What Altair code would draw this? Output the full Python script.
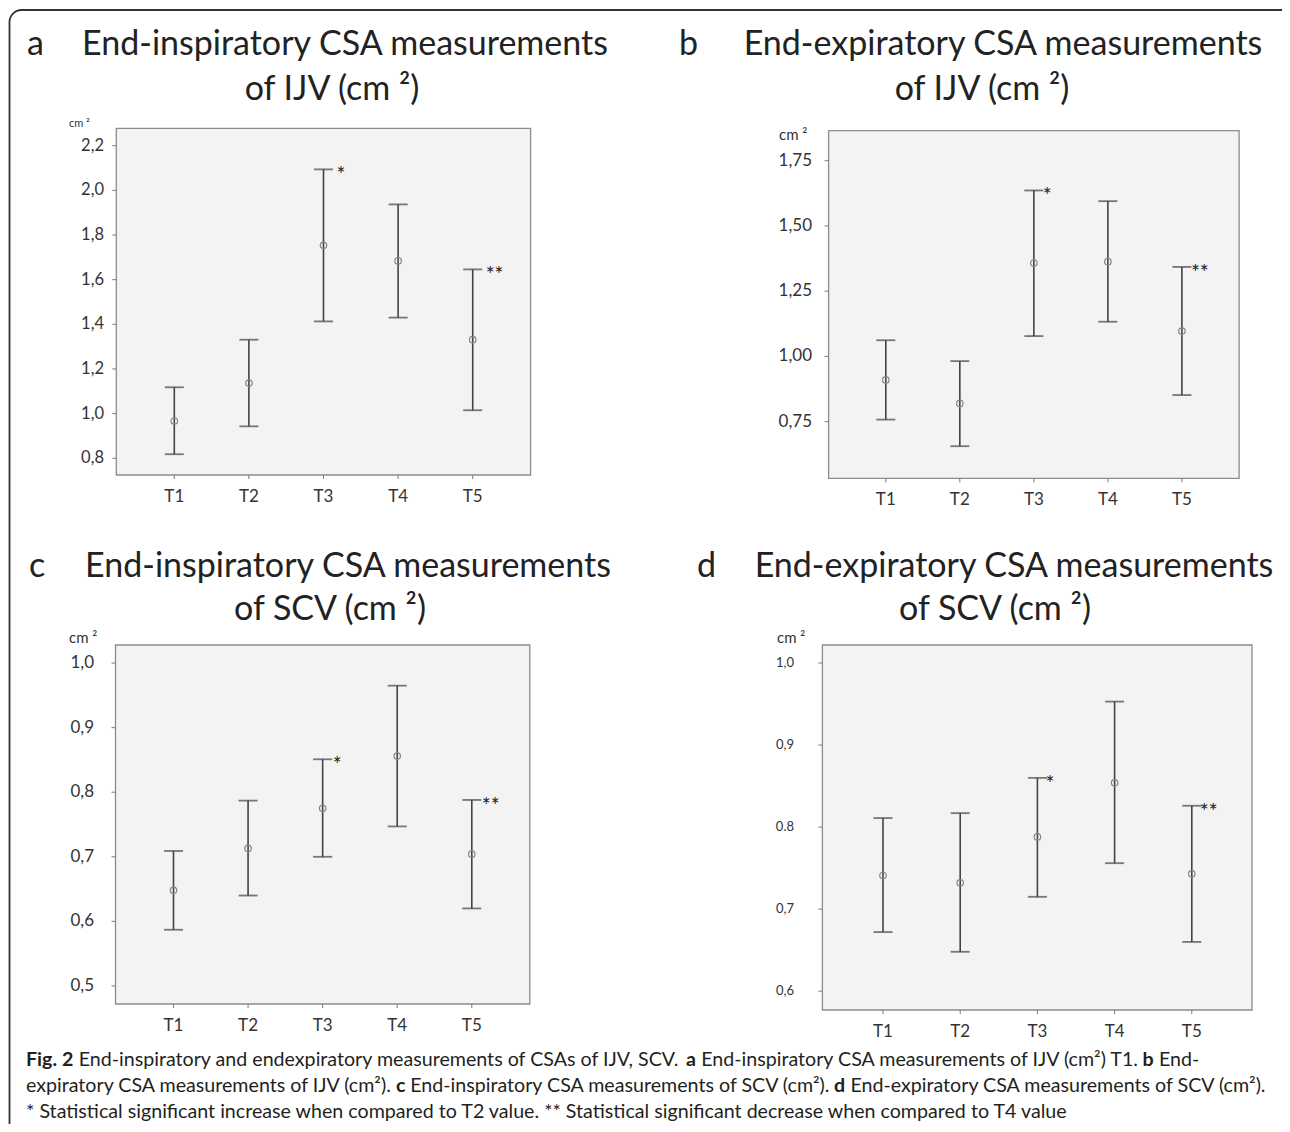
import altair as alt
import pandas as pd

# ---------------- data ----------------
CATS = ["T1", "T2", "T3", "T4", "T5"]
STARS = ["", "", "*", "", "**"]

A_MEAN = [0.967, 1.137, 1.754, 1.684, 1.331]
A_LOW = [0.818, 0.943, 1.413, 1.430, 1.015]
A_UP = [1.118, 1.331, 2.094, 1.937, 1.646]
A_TICKS = [0.8, 1.0, 1.2, 1.4, 1.6, 1.8, 2.0, 2.2]
A_TICK_LABELS = ["0,8", "1,0", "1,2", "1,4", "1,6", "1,8", "2,0", "2,2"]

B_MEAN = [0.910, 0.820, 1.358, 1.363, 1.097]
B_LOW = [0.758, 0.656, 1.078, 1.133, 0.852]
B_UP = [1.062, 0.982, 1.636, 1.595, 1.343]
B_TICKS = [0.75, 1.00, 1.25, 1.50, 1.75]
B_TICK_LABELS = ["0,75", "1,00", "1,25", "1,50", "1,75"]

C_MEAN = [0.648, 0.713, 0.775, 0.856, 0.704]
C_LOW = [0.587, 0.640, 0.700, 0.747, 0.620]
C_UP = [0.709, 0.787, 0.851, 0.965, 0.788]
C_TICKS = [0.5, 0.6, 0.7, 0.8, 0.9, 1.0]
C_TICK_LABELS = ["0,5", "0,6", "0,7", "0,8", "0,9", "1,0"]

D_MEAN = [0.741, 0.732, 0.788, 0.854, 0.743]
D_LOW = [0.672, 0.648, 0.715, 0.756, 0.660]
D_UP = [0.811, 0.817, 0.860, 0.953, 0.826]
D_TICKS = [0.6, 0.7, 0.8, 0.9, 1.0]
D_TICK_LABELS = ["0,6", "0,7", "0.8", "0,9", "1,0"]

TITLES = {
    "a": ["End-inspiratory CSA measurements", "of IJV (cm \u00b2)"],
    "b": ["End-expiratory CSA measurements", "of IJV (cm \u00b2)"],
    "c": ["End-inspiratory CSA measurements", "of SCV (cm \u00b2)"],
    "d": ["End-expiratory CSA measurements", "of SCV (cm \u00b2)"],
}

CAPTION = [
    [("b", "Fig. 2"), ("r", "End-inspiratory and endexpiratory measurements of CSAs of IJV, SCV."),
     ("b", "a"), ("r", "End-inspiratory CSA measurements of IJV (cm\u00b2) T1."), ("b", "b"), ("r", "End-")],
    [("r", "expiratory CSA measurements of IJV (cm\u00b2)."), ("b", "c"),
     ("r", "End-inspiratory CSA measurements of SCV (cm\u00b2)."), ("b", "d"),
     ("r", "End-expiratory CSA measurements of SCV (cm\u00b2).")],
    [("r", "* Statistical significant increase when compared to T2 value. ** Statistical significant decrease when compared to T4 value")],
]
# extra spacing (px) after each caption segment, to compensate width estimates
CAP_GAP = [[0, 6, 0, 0, 0, 0], [0, 0, 0, 0, 0], [0]]

# ---------------- style / layout ----------------
FONT = "Lato"
M = 8  # page margin
BAR = "#424242"
TXT = "#222222"
TITLE_FS = 34


def P(v):
    return v - M


LAYOUT = {
    "a": dict(fx0=116.3, fx1=530.6, fy0=128.3, fy1=475.0, cx0=174.3, cx1=472.7, v0=0.725, v1=2.278,
              lx=104, yfs=16.5, cmx=69, cmy=127, cmfs=11, letx=27, b1=55, b2=100, c1=345, c2=332, sdx=13),
    "b": dict(fx0=828.6, fx1=1239.1, fy0=130.7, fy1=478.3, cx0=885.8, cx1=1181.9, v0=0.533, v1=1.865,
              lx=812, yfs=17, cmx=779, cmy=140, cmfs=15, letx=679, b1=55, b2=100, c1=1003, c2=982, sdx=9),
    "c": dict(fx0=115.5, fx1=529.8, fy0=645.0, fy1=1004.0, cx0=173.5, cx1=471.8, v0=0.472, v1=1.028,
              lx=94, yfs=17, cmx=69, cmy=643, cmfs=15, letx=29, b1=577, b2=620, c1=348, c2=330, sdx=10),
    "d": dict(fx0=822.4, fx1=1252.0, fy0=645.0, fy1=1010.0, cx0=883.0, cx1=1191.8, v0=0.577, v1=1.022,
              lx=794, yfs=13, cmx=777, cmy=643, cmfs=15, letx=697, b1=577, b2=620, c1=1014, c2=995, sdx=8),
}

ONE = pd.DataFrame({"k": [0]})


def panel(key, mean, low, up, ticks, tick_labels):
    L = LAYOUT[key]
    df = pd.DataFrame({"cat": CATS, "mean": mean, "low": low, "up": up, "star": STARS})
    tdf = pd.DataFrame({"v": ticks, "lab": tick_labels})
    xs = alt.Scale(type="point", domain=CATS, range=[P(L["cx0"]), P(L["cx1"])], padding=0)
    ys = alt.Scale(domain=[L["v0"], L["v1"]], range=[P(L["fy1"]), P(L["fy0"])], nice=False, zero=False)
    X = alt.X("cat:N", scale=xs, axis=None)

    def Y(f):
        return alt.Y(f"{f}:Q", scale=ys, axis=None)

    layers = []
    layers.append(alt.Chart(ONE).mark_rect(fill="#f3f3f3", stroke="#8c8c8c", strokeWidth=1.3).encode(
        x=alt.value(P(L["fx0"])), x2=alt.value(P(L["fx1"])),
        y=alt.value(P(L["fy0"])), y2=alt.value(P(L["fy1"]))))
    # axis ticks
    layers.append(alt.Chart(tdf).mark_rule(color="#7a7a7a", strokeWidth=1).encode(
        y=Y("v"), x=alt.value(P(L["fx0"]) - 4), x2=alt.value(P(L["fx0"]))))
    layers.append(alt.Chart(tdf).mark_text(align="right", baseline="middle", font=FONT,
                                           fontSize=L["yfs"], color="#333333").encode(
        y=Y("v"), x=alt.value(P(L["lx"])), text="lab:N"))
    layers.append(alt.Chart(df).mark_rule(color="#7a7a7a", strokeWidth=1).encode(
        x=X, y=alt.value(P(L["fy1"])), y2=alt.value(P(L["fy1"]) + 4)))
    layers.append(alt.Chart(df).mark_text(baseline="top", font=FONT, fontSize=17, color="#333333").encode(
        x=X, y=alt.value(P(L["fy1"]) + 14), text="cat:N"))
    # error bars
    layers.append(alt.Chart(df).mark_rule(color=BAR, strokeWidth=1.6).encode(x=X, y=Y("low"), y2="up:Q"))
    layers.append(alt.Chart(df).mark_tick(orient="horizontal", size=19, thickness=1.8, color=BAR).encode(
        x=X, y=Y("low")))
    layers.append(alt.Chart(df).mark_tick(orient="horizontal", size=19, thickness=1.8, color=BAR).encode(
        x=X, y=Y("up")))
    layers.append(alt.Chart(df).mark_point(shape="circle", filled=False, size=42, color="#858585",
                                           strokeWidth=1.2, opacity=1).encode(x=X, y=Y("mean")))
    layers.append(alt.Chart(df).transform_filter("datum.star != ''").mark_text(
        align="left", baseline="alphabetic", dx=L["sdx"], dy=13, font=FONT, fontSize=21, color=TXT).encode(
        x=X, y=Y("up"), text="star:N"))
    # unit label
    layers.append(alt.Chart(ONE).mark_text(align="left", baseline="alphabetic", font=FONT,
                                           fontSize=L["cmfs"], color="#333333").encode(
        x=alt.value(P(L["cmx"])), y=alt.value(P(L["cmy"])), text=alt.value("cm \u00b2")))
    # titles
    layers.append(alt.Chart(ONE).mark_text(align="left", baseline="alphabetic", font=FONT,
                                           fontSize=TITLE_FS, color=TXT).encode(
        x=alt.value(P(L["letx"])), y=alt.value(P(L["b1"])), text=alt.value(key)))
    layers.append(alt.Chart(ONE).mark_text(align="center", baseline="alphabetic", font=FONT,
                                           fontSize=TITLE_FS, color=TXT).encode(
        x=alt.value(P(L["c1"])), y=alt.value(P(L["b1"])), text=alt.value(TITLES[key][0])))
    layers.append(alt.Chart(ONE).mark_text(align="center", baseline="alphabetic", font=FONT,
                                           fontSize=TITLE_FS, color=TXT).encode(
        x=alt.value(P(L["c2"])), y=alt.value(P(L["b2"])), text=alt.value(TITLES[key][1])))
    return layers


# ------------- caption layout (approximate Lato advance widths, em) -------------
W = {" ": 0.26, ".": 0.23, ",": 0.23, "(": 0.30, ")": 0.30, "-": 0.35, "*": 0.42, "\u00b2": 0.36}
W.update({c: v for c, v in zip("abcdefghijklmnopqrstuvwxyz",
                               [0.51, 0.57, 0.46, 0.57, 0.53, 0.32, 0.50, 0.57, 0.24, 0.24, 0.50, 0.24, 0.86,
                                0.57, 0.57, 0.57, 0.57, 0.37, 0.43, 0.35, 0.57, 0.50, 0.77, 0.49, 0.50, 0.45])})
W.update({c: v for c, v in zip("ABCDEFGHIJKLMNOPQRSTUVWXYZ",
                               [0.68, 0.63, 0.66, 0.74, 0.57, 0.55, 0.72, 0.75, 0.28, 0.39, 0.65, 0.49, 0.90,
                                0.75, 0.80, 0.58, 0.80, 0.62, 0.52, 0.58, 0.72, 0.68, 1.0, 0.65, 0.62, 0.61])})
W.update({c: 0.58 for c in "0123456789"})
W = {k: v * 0.98 for k, v in W.items()}


def em(s, bold=False):
    return sum(W.get(ch, 0.5) for ch in s) * (1.05 if bold else 1.0)


CAP_X0 = 26
CAP_BASE = [1066, 1092, 1118]
line2_em = sum(em(t, k == "b") for k, t in CAPTION[1]) + W[" "] * (len(CAPTION[1]) - 1)
CAP_FS = round((1265 - CAP_X0) / line2_em, 2)

rows = []
for li, segs in enumerate(CAPTION):
    x = CAP_X0
    for si, (k, t) in enumerate(segs):
        rows.append({"px": P(x), "py": P(CAP_BASE[li]), "t": t, "w": k})
        x += (em(t, k == "b") + W[" "]) * CAP_FS + CAP_GAP[li][si]
cap = pd.DataFrame(rows)

cap_reg = alt.Chart(cap).transform_filter("datum.w == 'r'").mark_text(
    align="left", baseline="alphabetic", font=FONT, fontSize=CAP_FS, color="#231f20").encode(
    x=alt.X("px:Q", scale=None, axis=None), y=alt.Y("py:Q", scale=None, axis=None), text="t:N")
cap_bold = alt.Chart(cap).transform_filter("datum.w == 'b'").mark_text(
    align="left", baseline="alphabetic", font=FONT, fontSize=CAP_FS, fontWeight="bold", color="#231f20").encode(
    x=alt.X("px:Q", scale=None, axis=None), y=alt.Y("py:Q", scale=None, axis=None), text="t:N")

border = alt.Chart(ONE).mark_rect(fillOpacity=0, fill="white", stroke="#333333", strokeWidth=1.8,
                                  cornerRadius=12).encode(
    x=alt.value(P(9.5)), x2=alt.value(1320), y=alt.value(P(10)), y2=alt.value(1320))

layers = [border]
layers += panel("a", A_MEAN, A_LOW, A_UP, A_TICKS, A_TICK_LABELS)
layers += panel("b", B_MEAN, B_LOW, B_UP, B_TICKS, B_TICK_LABELS)
layers += panel("c", C_MEAN, C_LOW, C_UP, C_TICKS, C_TICK_LABELS)
layers += panel("d", D_MEAN, D_LOW, D_UP, D_TICKS, D_TICK_LABELS)
layers += [cap_reg, cap_bold]

chart = alt.layer(*layers).resolve_scale(x="independent", y="independent").properties(
    width=1274, height=1116, autosize=alt.AutoSizeParams(type="none"), padding=0
).configure_view(stroke=None)

chart.save("out.html", embed_options={"renderer": "svg", "actions": False})
